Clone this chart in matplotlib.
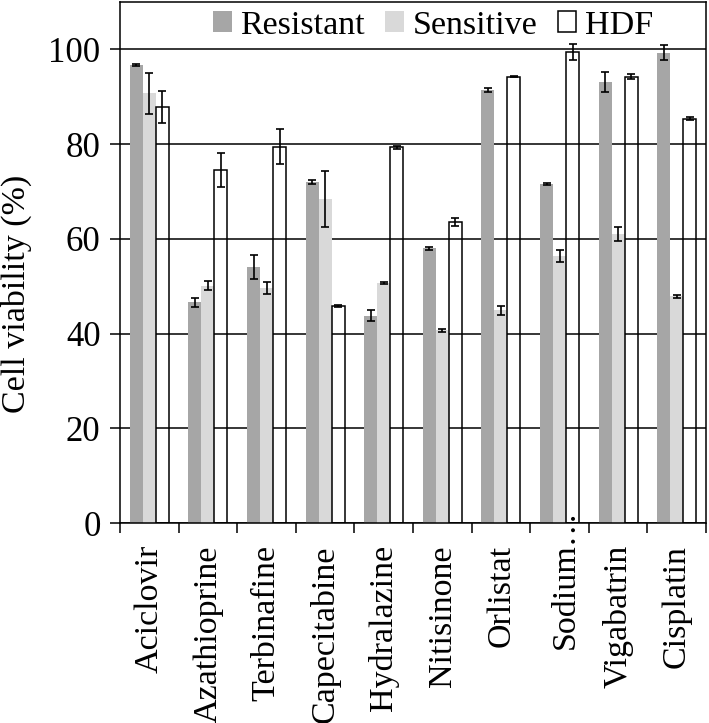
import matplotlib
matplotlib.use("Agg")
import matplotlib.pyplot as plt
import matplotlib.transforms as mtransforms
import numpy as np

plt.rcParams["font.family"] = ["Liberation Serif", "DejaVu Serif"]

drugs = ["Aciclovir", "Azathioprine", "Terbinafine", "Capecitabine", "Hydralazine",
         "Nitisinone", "Orlistat", "Sodium…", "Vigabatrin", "Cisplatin"]

resistant = [96.7, 46.6, 54.0, 72.0, 43.8, 58.0, 91.4, 71.6, 93.1, 99.3]
resistant_err = [0.2, 1.0, 2.5, 0.4, 1.1, 0.3, 0.5, 0.2, 2.2, 1.6]
sensitive = [90.7, 50.1, 49.6, 68.4, 50.6, 40.7, 44.9, 56.4, 61.0, 47.9]
sensitive_err = [4.3, 1.0, 1.2, 5.9, 0.2, 0.3, 1.0, 1.3, 1.4, 0.3]
hdf = [87.8, 74.5, 79.4, 45.8, 79.3, 63.6, 94.2, 99.4, 94.2, 85.4]
hdf_err = [3.4, 3.6, 3.7, 0.2, 0.3, 0.9, 0.1, 1.7, 0.5, 0.3]

fig = plt.figure(figsize=(7.09, 7.23), dpi=100)
ax = fig.add_axes([0.1693, 0.2766, 0.8265, 0.7206])

x = np.arange(len(drugs))
width = 0.222
err_kw = dict(ecolor="black", elinewidth=1.2, capsize=2.6, capthick=1.2)

ax.bar(x - width, resistant, width, yerr=resistant_err, color="#a6a6a6",
       label="Resistant", error_kw=err_kw, zorder=2)
ax.bar(x, sensitive, width, yerr=sensitive_err, color="#d9d9d9",
       label="Sensitive", error_kw=err_kw, zorder=2)
ax.bar(x + width, hdf, width, yerr=hdf_err, facecolor="none", edgecolor="black",
       linewidth=1.1, label="HDF", error_kw=err_kw, zorder=2)

ax.set_xlim(-0.5, len(drugs) - 0.5)
ax.set_ylim(0, 110)
ax.set_yticks([0, 20, 40, 60, 80, 100])
ax.yaxis.grid(True, color="black", linewidth=1.1)
ax.set_axisbelow(True)

ax.set_xticks(x)
ax.set_xticklabels(drugs, rotation=90, fontsize=24.5)
ax.tick_params(axis="x", length=0, pad=16)
ax.set_xticks(np.arange(len(drugs) + 1) - 0.5, minor=True)
ax.tick_params(axis="x", which="minor", length=7, width=1.1, direction="out")
ax.tick_params(axis="y", labelsize=25, length=7, width=1.1, direction="out", pad=7)

for spine in ax.spines.values():
    spine.set_linewidth(1.1)

# the truncated label sits higher, its dots run into the plot
lbl = ax.get_xticklabels()[7]
lbl.set_transform(lbl.get_transform() + mtransforms.ScaledTranslation(0.06, 0.36, fig.dpi_scale_trans))

ax.set_ylabel("Cell viability (%)", fontsize=24.5)
ax.yaxis.set_label_coords(-0.15, 0.44)

ax.legend(loc="center", bbox_to_anchor=(0.534, 0.955), ncol=3, frameon=False,
          fontsize=24.5, handlelength=0.55, handleheight=0.55, handletextpad=0.25,
          columnspacing=0.6, borderpad=0)

fig.savefig("out.png", dpi=100)
